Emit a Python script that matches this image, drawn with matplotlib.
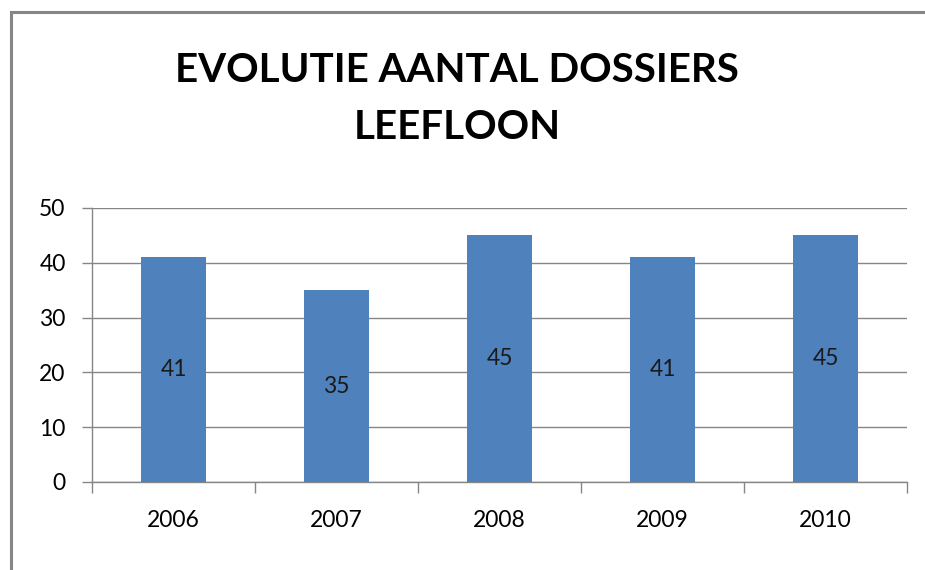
import matplotlib
matplotlib.use("Agg")
import matplotlib.pyplot as plt
from matplotlib.patches import Rectangle

years = ["2006", "2007", "2008", "2009", "2010"]
values = [41, 35, 45, 41, 45]
yticks = [0, 10, 20, 30, 40, 50]
title = "EVOLUTIE AANTAL DOSSIERS\nLEEFLOON"

W, H = 925, 570
fig = plt.figure(figsize=(W / 100, H / 100), dpi=100)
plt.rcParams['font.family'] = ['Lato', 'DejaVu Sans']

gray = "#868686"
bar_color = "#4F81BD"

# outer frame (extends beyond right and bottom edges)
fig.patches.append(Rectangle((10.5 / W, -0.05), 1.1, 1 - 12 / H + 0.05,
                             transform=fig.transFigure, fill=False,
                             edgecolor=gray, linewidth=2.2))

ax = fig.add_axes([92 / W, 1 - 482 / H, (907 - 92) / W, (482 - 208) / H])
x = list(range(len(years)))
bars = ax.bar(x, values, width=0.40, color=bar_color, zorder=3)
for xi, v in zip(x, values):
    ax.text(xi, v / 2, str(v), ha="center", va="center", fontsize=16.5,
            color="#1a1a1a", zorder=4)

ax.set_xlim(-0.5, len(years) - 0.5)
ax.set_ylim(0, 50)
ax.set_yticks(yticks)
ax.set_yticklabels([str(t) for t in yticks], fontsize=16.5)
ax.set_xticks(x)
ax.set_xticklabels(years, fontsize=16.5)
ax.set_xticks([i - 0.5 for i in range(len(years) + 1)], minor=True)
ax.tick_params(axis="x", which="major", length=0, pad=20)
ax.tick_params(axis="x", which="minor", length=8, color=gray, width=1)
ax.tick_params(axis="y", length=7, color=gray, width=1, pad=12)
ax.yaxis.grid(True, color=gray, linewidth=1)
ax.set_axisbelow(True)
for s in ["top", "right"]:
    ax.spines[s].set_visible(False)
for s in ["left", "bottom"]:
    ax.spines[s].set_color(gray)
    ax.spines[s].set_linewidth(1)

fig.text(457 / W, 1 - 99 / H, title, ha="center", va="center",
         fontsize=29, fontweight="bold", linespacing=1.68, color="black")

fig.savefig("out.png", dpi=100)
